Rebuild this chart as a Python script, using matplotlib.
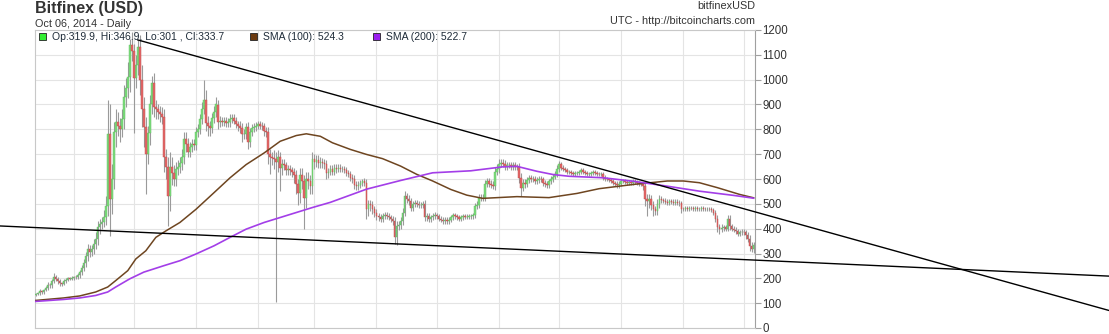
import numpy as np
import pandas as pd
import matplotlib
matplotlib.use("Agg")
import matplotlib.pyplot as plt
import matplotlib.dates as mdates
from matplotlib.patches import Rectangle

plt.rcParams["font.family"] = ["Liberation Sans", "DejaVu Sans"]

W, H = 1109, 334

# Bitfinex BTC/USD daily candles, 2013-10-13 .. 2014-10-06
start_date = "2013-10-13"
end_date = "2014-10-06"
first_open = 132

closes = [
    137, 140, 149, 143, 152, 160, 175, 172, 188, 205, 198, 190, 181, 178, 189, 194, 200, 198, 203,  # oct
    205, 204, 212, 225, 240, 262, 290, 318, 305, 320, 340, 360, 405, 420, 425, 445, 490, 780, 520, 600,
    790, 830, 815, 800, 840, 930, 965, 1010, 1140, 1115,  # nov
    1005, 1060, 1130, 1000, 880, 810, 700, 785, 900, 986, 890, 880, 870, 860, 850, 690, 650, 530, 650, 625,
    600, 640, 650, 665, 690, 760, 740, 710, 730, 740, 735,  # dec
    790, 800, 840, 880, 920, 825, 815, 805, 845, 870, 900, 830, 835, 830, 835, 825, 830, 840, 845, 835,
    820, 815, 805, 780, 780, 810, 750, 790, 805, 810, 815,  # jan
    820, 815, 812, 795, 790, 700, 690, 685, 680, 670, 690, 645, 660, 655, 635, 640, 635, 630, 615, 580,
    545, 615, 590, 525, 600, 590, 570, 680,  # feb
    670, 675, 665, 670, 665, 660, 625, 630, 640, 630, 645, 640, 645, 640, 640, 635, 625, 620, 605, 600,
    575, 570, 575, 585, 590, 585, 480, 500, 495, 478, 465,  # mar
    450, 445, 440, 450, 455, 450, 445, 440, 430, 365, 410, 415, 430, 465, 530, 520, 510, 485, 500, 505,
    500, 495, 495, 500, 445, 450, 440, 445, 450, 455,  # apr
    450, 440, 435, 430, 435, 430, 435, 445, 455, 450, 445, 440, 445, 450, 448, 448, 450, 450, 455, 490,
    495, 525, 525, 525, 580, 590, 580, 575, 570, 630, 640,  # may
    660, 665, 660, 650, 655, 655, 650, 655, 650, 648, 605, 565, 585, 580, 595, 605, 600, 600, 590, 595,
    600, 598, 585, 580, 575, 590, 600, 610, 620, 640,  # jun
    660, 645, 640, 635, 630, 630, 625, 620, 625, 625, 630, 635, 630, 625, 620, 622, 625, 628, 625, 622,
    620, 620, 605, 600, 598, 595, 590, 585, 580, 575, 580,  # jul
    590, 590, 588, 585, 588, 585, 590, 588, 585, 580, 578, 570, 520, 510, 520, 495, 478, 470, 500, 520,
    515, 512, 508, 505, 510, 508, 505, 508, 505, 502, 480,  # aug
    478, 482, 480, 485, 482, 480, 482, 478, 480, 482, 480, 478, 480, 478, 476, 465, 440, 405, 400, 402,
    405, 400, 440, 410, 400, 395, 390, 380, 385, 388,  # sep
    385, 375, 360, 330, 319.9, 333.7,  # oct
]

# shadow length above / below the candle body
wick_high = [
    4, 5, 8, 6, 6, 8, 10, 8, 10, 15, 10, 8, 6, 6, 8, 8, 6, 6, 6,
    6, 8, 8, 10, 12, 15, 15, 20, 15, 15, 20, 25, 25, 20, 20, 30, 40, 140, 120, 60,
    40, 50, 40, 30, 40, 50, 40, 60, 25, 50,
    30, 40, 30, 50, 60, 50, 40, 30, 40, 30, 40, 30, 20, 25, 30, 30, 30, 40, 60, 40,
    30, 30, 25, 25, 30, 30, 30, 25, 20, 20, 20,
    20, 20, 20, 30, 80, 40, 30, 20, 20, 25, 30, 20, 20, 15, 15, 15, 15, 20, 15, 15,
    15, 15, 20, 20, 20, 15, 20, 15, 15, 15, 15,
    15, 15, 15, 15, 15, 20, 20, 20, 30, 30, 25, 20, 20, 20, 15, 15, 15, 15, 15, 20,
    20, 30, 30, 25, 30, 30, 25, 30,
    20, 20, 20, 20, 15, 15, 15, 15, 15, 15, 15, 15, 15, 15, 12, 12, 12, 12, 12, 15,
    15, 15, 15, 12, 12, 15, 15, 15, 15, 15, 15,
    15, 15, 15, 12, 12, 12, 12, 12, 12, 15, 20, 15, 15, 20, 20, 15, 15, 15, 12, 12,
    12, 12, 12, 12, 15, 15, 12, 12, 12, 12,
    10, 10, 10, 10, 10, 10, 10, 10, 10, 10, 10, 10, 10, 10, 10, 10, 10, 10, 10, 15,
    15, 15, 15, 15, 15, 15, 15, 15, 15, 20, 20,
    20, 15, 15, 15, 15, 15, 12, 12, 12, 12, 15, 20, 15, 15, 12, 12, 12, 12, 12, 12,
    12, 12, 12, 12, 12, 12, 12, 12, 12, 15,
    12, 10, 10, 10, 8, 8, 8, 8, 8, 8, 8, 8, 8, 8, 8, 8, 8, 8, 8, 8,
    8, 8, 10, 10, 8, 8, 8, 8, 8, 10, 10,
    8, 8, 8, 8, 8, 8, 8, 8, 8, 8, 8, 10, 15, 20, 20, 15, 15, 15, 20, 15,
    10, 10, 10, 10, 10, 10, 10, 10, 10, 10, 10,
    8, 8, 8, 8, 8, 8, 8, 8, 8, 8, 8, 8, 8, 8, 8, 8, 10, 15, 15, 15,
    10, 10, 15, 15, 10, 10, 10, 10, 10, 10,
    10, 10, 10, 15, 15, 13.2,
]
wick_low = [
    5, 5, 6, 8, 5, 5, 8, 10, 10, 8, 10, 12, 10, 8, 5, 8, 5, 6, 5,
    8, 8, 6, 10, 10, 10, 15, 20, 20, 15, 20, 20, 25, 25, 20, 20, 30, 40, 150, 60,
    40, 60, 40, 50, 30, 40, 40, 40, 60, 40,
    220, 40, 40, 60, 70, 80, 160, 40, 50, 40, 40, 40, 30, 30, 30, 60, 50, 120, 60, 50,
    30, 30, 25, 25, 30, 30, 30, 20, 20, 20, 20,
    20, 20, 20, 20, 20, 30, 40, 30, 20, 20, 20, 30, 20, 15, 15, 15, 15, 20, 15, 15,
    15, 20, 20, 30, 20, 20, 30, 20, 15, 15, 15,
    15, 15, 15, 20, 20, 40, 70, 30, 40, 565, 40, 95, 30, 20, 20, 20, 20, 20, 30, 40,
    50, 40, 30, 125, 40, 30, 30, 30,
    30, 20, 20, 20, 20, 20, 25, 20, 15, 15, 15, 15, 12, 12, 12, 12, 12, 12, 15, 15,
    15, 15, 15, 12, 12, 15, 40, 30, 25, 20, 20,
    15, 15, 15, 12, 12, 12, 12, 12, 15, 28, 30, 15, 15, 15, 15, 15, 15, 15, 12, 12,
    12, 12, 12, 12, 15, 15, 12, 12, 12, 12,
    10, 10, 10, 10, 10, 10, 10, 10, 10, 10, 10, 10, 10, 10, 10, 10, 10, 10, 10, 12,
    12, 12, 12, 15, 15, 12, 12, 12, 12, 15, 15,
    15, 12, 12, 12, 12, 12, 12, 12, 12, 12, 20, 35, 15, 15, 12, 12, 12, 12, 12, 12,
    12, 12, 12, 12, 12, 12, 12, 12, 12, 12,
    10, 10, 8, 8, 8, 8, 8, 8, 8, 8, 8, 8, 8, 8, 8, 8, 8, 8, 8, 8,
    8, 8, 10, 10, 8, 8, 8, 8, 10, 10, 10,
    8, 8, 8, 8, 8, 8, 8, 8, 8, 8, 8, 15, 30, 60, 25, 20, 25, 15, 15, 15,
    10, 10, 10, 10, 10, 10, 10, 10, 10, 10, 15,
    8, 8, 8, 8, 8, 8, 8, 8, 8, 8, 8, 8, 8, 8, 8, 10, 15, 20, 20, 15,
    10, 10, 10, 15, 10, 10, 10, 10, 10, 10,
    10, 15, 15, 20, 15, 18.9,
]

# moving averages, read at day offsets from start_date
sma100_day = [0, 14, 22, 30, 36, 40, 46, 50, 55, 60, 65, 72, 80, 89, 97, 105, 114, 122, 130, 135,
              142, 148, 157, 165, 173, 182, 190, 198, 207, 215, 223, 240, 256, 270, 281, 298, 315, 323, 331, 340,
              351, 358]
sma100 = [111, 121, 129, 145, 165, 191, 231, 278, 311, 365, 391, 425, 478, 545, 605, 658, 705, 752, 775, 782,
          772, 746, 719, 699, 682, 652, 619, 592, 558, 535, 522, 529, 525, 542, 561, 578, 592, 592, 585, 565,
          538, 524.3]
sma200_day = [0, 14, 22, 30, 36, 40, 47, 54, 64, 72, 80, 89, 97, 105, 114, 122, 130, 138, 147, 165,
              182, 198, 217, 233, 240, 250, 258, 266, 283, 298, 315, 331, 348, 358]
sma200 = [107, 115, 121, 131, 145, 165, 198, 225, 251, 271, 298, 331, 365, 398, 425, 445, 465, 485, 506, 559,
          594, 625, 633, 649, 651, 631, 618, 611, 605, 591, 571, 551, 534, 522.7]

# hand drawn trend lines (date, price)
upper_trend = [("2013-12-03", 1160), ("2015-04-01", 71)]
lower_trend = [("2013-09-25", 411), ("2015-04-01", 209)]

dates = pd.date_range(start_date, end_date, freq="D")
x = mdates.date2num(dates)
close = np.array(closes, dtype=float)
open_ = np.r_[first_open, close[:-1]]
high = np.maximum(open_, close) + np.array(wick_high)
low = np.minimum(open_, close) - np.array(wick_low)
rising = close >= open_

fig = plt.figure(figsize=(W / 100, H / 100), dpi=100)
ax = fig.add_axes([35 / W, 6 / H, 720 / W, 298 / H])
ax.set_xlim(x[0] - 0.25, x[0] + 358.7)
ax.set_ylim(0, 1200)

ax.set_yticks(range(0, 1300, 100))
ax.yaxis.tick_right()
ax.set_xticks(x[dates.day == 1])
ax.tick_params(axis="x", length=0, labelbottom=False)
ax.tick_params(axis="y", direction="out", length=4, width=0.8, color="#a0a0a0",
               labelsize=8.3, labelcolor="#333333", pad=1.5)
ax.grid(True, color="#e4e4e4", lw=0.8)
ax.set_axisbelow(True)
for side, spine in ax.spines.items():
    spine.set_color("#c8c8c8")
    spine.set_linewidth(0.8)
ax.spines["right"].set_color("#a0a0a0")

ax.vlines(x, low, high, color="#9a9a9a", lw=0.8, zorder=2)
ax.bar(x[rising], (close - open_)[rising], bottom=open_[rising], width=0.8,
       color="#7ddc7d", edgecolor="#5cbf5c", lw=0.3, zorder=3)
ax.bar(x[~rising], (open_ - close)[~rising], bottom=close[~rising], width=0.8,
       color="#e46a6a", edgecolor="#c04848", lw=0.3, zorder=3)

ax.plot(x[0] + np.array(sma100_day), sma100, color="#6e4520", lw=1.1, zorder=4)
ax.plot(x[0] + np.array(sma200_day), sma200, color="#a33ee8", lw=1.2, zorder=4)

for line in (upper_trend, lower_trend):
    lx = mdates.date2num(pd.to_datetime([p[0] for p in line]))
    ly = [p[1] for p in line]
    ax.plot(lx, ly, color="black", lw=1.0, clip_on=False, zorder=6)

# header texts
txt = "#333333"
fig.text(35 / W, 1 - 12.5 / H, "Bitfinex (USD)", fontsize=11.5, fontweight="bold", color=txt, va="baseline")
fig.text(35 / W, 1 - 27 / H, "Oct 06, 2014 - Daily", fontsize=7.8, color=txt, va="baseline")
fig.text(755 / W, 1 - 9 / H, "bitfinexUSD", fontsize=7.8, color=txt, va="baseline", ha="right")
fig.text(755 / W, 1 - 24.5 / H, "UTC - http://bitcoincharts.com", fontsize=7.8, color=txt,
         va="baseline", ha="right")

# legend row
last_o, last_h, last_l, last_c = open_[-1], round(high[-1], 1), round(low[-1], 1), close[-1]
legend_items = [
    (39, "#33ee33", f"Op:{last_o:g}, Hi:{last_h:g}, Lo:{last_l:g} , Cl:{last_c:g}"),
    (250, "#6b3a10", f"SMA (100): {sma100[-1]:g}"),
    (373, "#9b1ff0", f"SMA (200): {sma200[-1]:g}"),
]
for px, col, label in legend_items:
    fig.patches.append(Rectangle((px / W, 1 - 39.5 / H), 7 / W, 7 / H, transform=fig.transFigure,
                                 facecolor=col, edgecolor="#222222", lw=0.6))
    fig.text((px + 13) / W, 1 - 40 / H, label, fontsize=7.5, color="#1e2b38", va="baseline")

fig.savefig("out.png", dpi=100)
